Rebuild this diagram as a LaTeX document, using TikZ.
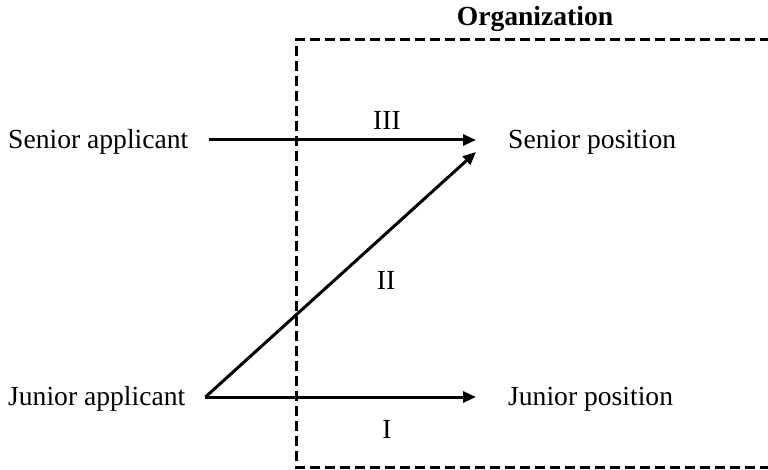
\documentclass[tikz,border=0pt]{standalone}
\usepackage{fontspec}
\setmainfont{Liberation Serif}
\usetikzlibrary{arrows.meta}
\tikzset{
  lbl/.style={inner sep=0pt, font=\fontsize{27.6}{32}\selectfont},
  conn/.style={line width=3pt, -{Triangle[length=13pt,width=11pt]}},
  orgbox/.style={line width=3pt, dash pattern=on 10pt off 5pt},
}
\begin{document}
\begin{tikzpicture}[x=1pt,y=-1pt]
\useasboundingbox (0,0) rectangle (768,470);
\node[lbl, font=\fontsize{27.6}{32}\selectfont\bfseries] (org) at (535,19) {Organization};
\draw[orgbox] (770,40) -- (296,40) -- (296,467) -- (770,467);
\node[lbl, anchor=west] (sa) at (8,142) {Senior applicant};
\node[lbl, anchor=west] (ja) at (8,399) {Junior applicant};
\node[lbl, anchor=west] (sp) at (508,142) {Senior position};
\node[lbl, anchor=west] (jp) at (508,399) {Junior position};
\coordinate (saout) at ([xshift=20pt,yshift=2pt]sa.east);
\coordinate (jaout) at ([xshift=20pt,yshift=2pt]ja.east);
\coordinate (spin) at ([xshift=-32pt,yshift=2pt]sp.west);
\coordinate (spin2) at ([xshift=-32pt,yshift=-10pt]sp.west);
\coordinate (jpin) at ([xshift=-32pt,yshift=2pt]jp.west);
\draw[conn] (saout) -- (spin);
\draw[conn] (jaout) -- (spin2);
\draw[conn] (jaout) -- (jpin);
\node[lbl] (l3) at (387,120) {III};
\node[lbl] (l2) at (386,280) {II};
\node[lbl] (l1) at (387,429) {I};
\end{tikzpicture}
\end{document}
